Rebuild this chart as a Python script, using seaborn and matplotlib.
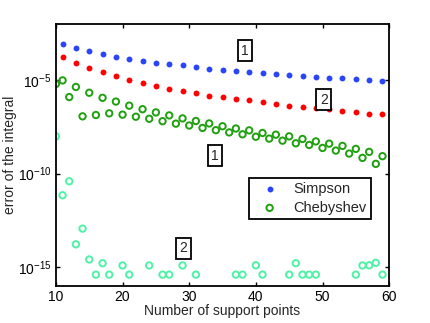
import numpy as np
import pandas as pd
import matplotlib
matplotlib.use("Agg")
import matplotlib.pyplot as plt
import seaborn as sns

# support points
n_odd = list(range(11, 60, 2))
n_all = list(range(10, 60))

# log10 of the integration error
simpson_1 = [-3.07, -3.28, -3.46, -3.60, -3.76, -3.87, -3.97, -4.08, -4.15, -4.22,
             -4.31, -4.41, -4.47, -4.52, -4.57, -4.63, -4.68, -4.75, -4.79, -4.84,
             -4.88, -4.91, -4.95, -5.00, -5.04]
simpson_2 = [-3.79, -4.10, -4.38, -4.59, -4.80, -5.00, -5.16, -5.32, -5.46, -5.59,
             -5.71, -5.83, -5.92, -6.01, -6.08, -6.19, -6.28, -6.37, -6.44, -6.51,
             -6.56, -6.65, -6.72, -6.79, -6.84]
cheb_1 = [-5.21, -5.02, -5.91, -5.37, -6.94, -5.68, -6.87, -5.95, -6.78, -6.15,
          -6.85, -6.37, -6.96, -6.56, -7.07, -6.73, -7.20, -6.89, -7.33, -7.05,
          -7.43, -7.19, -7.56, -7.32, -7.68, -7.47, -7.80, -7.59, -7.90, -7.69,
          -8.03, -7.83, -8.13, -7.92, -8.24, -8.01, -8.38, -8.15, -8.47, -8.28,
          -8.63, -8.40, -8.77, -8.52, -8.93, -8.68, -9.16, -8.84, -9.48, -9.07]
nan = np.nan
cheb_2 = [-8.01, -11.16, -10.41, -13.78, -12.94, -14.59, -15.40, -14.79, -15.40, nan,
          -14.91, -15.40, nan, nan, -14.91, nan, -15.40, -15.40, nan, -14.91,
          nan, -15.40, nan, nan, nan, nan, nan, -15.40, -15.40, nan,
          -14.90, -15.40, nan, nan, nan, -15.40, -14.79, -15.40, -15.40, -15.40,
          nan, nan, nan, nan, nan, -15.40, -14.91, -14.90, -14.77, -15.40]

df_s = pd.DataFrame({"n": n_odd, "s1": 10.0 ** np.array(simpson_1),
                     "s2": 10.0 ** np.array(simpson_2)})
df_c = pd.DataFrame({"n": n_all, "c1": 10.0 ** np.array(cheb_1),
                     "c2": 10.0 ** np.array(cheb_2)})

sns.set_style("ticks")
plt.rcParams["font.family"] = ["Liberation Sans", "DejaVu Sans"]
plt.rcParams["mathtext.fontset"] = "custom"
plt.rcParams["mathtext.rm"] = "Liberation Sans"
plt.rcParams["mathtext.it"] = "Liberation Sans:italic"

blue = "#2a44f8"
red = "#ff0000"
green = "#1fa00f"
mint = "#4ff2a6"

fig = plt.figure(figsize=(4.3, 3.23), dpi=100)
ax = fig.add_axes([0.130, 0.115, 0.775, 0.811])

sns.scatterplot(data=df_s, x="n", y="s1", color=blue, s=18, linewidth=0,
                label="Simpson", ax=ax)
sns.scatterplot(data=df_c, x="n", y="c1", color=green, facecolor="none",
                edgecolor=green, s=21, linewidth=1.4, label="Chebyshev", ax=ax)
sns.scatterplot(data=df_s, x="n", y="s2", color=red, s=18, linewidth=0, ax=ax)
sns.scatterplot(data=df_c, x="n", y="c2", color=mint, facecolor="none",
                edgecolor=mint, s=21, linewidth=1.4, ax=ax)

ax.set_yscale("log")
ax.set_xlim(10, 60)
ax.set_ylim(1e-16, 1e-2)
ax.set_xticks([10, 20, 30, 40, 50, 60])
ax.set_yticks([1e-15, 1e-10, 1e-5])
ax.yaxis.set_minor_locator(matplotlib.ticker.NullLocator())
ax.tick_params(direction="in", top=True, right=True, length=3, width=1,
               labelsize=10, colors="black", pad=3)
for sp in ax.spines.values():
    sp.set_visible(True)
    sp.set_linewidth(1.3)
    sp.set_color("black")

ax.set_xlabel("Number of support points", fontsize=10, labelpad=0)
ax.set_ylabel("error of the integral", fontsize=10, labelpad=1)

box = dict(boxstyle="square,pad=0.25", facecolor="white", edgecolor="black", linewidth=1.3)
for tx, ty, s in [(38.4, 10 ** -3.44, "1"), (50.2, 10 ** -6.05, "2"),
                  (33.9, 10 ** -9.04, "1"), (29.1, 10 ** -14.0, "2")]:
    ax.text(tx, ty, s, ha="center", va="center", fontsize=10, bbox=box)

leg = ax.legend(loc="upper left", bbox_to_anchor=(0.58, 0.412), fontsize=10.5,
                frameon=True, fancybox=False, edgecolor="black", framealpha=1,
                borderpad=0.3, handletextpad=0.5, labelspacing=0.3,
                handlelength=2.2, borderaxespad=0)
leg.get_frame().set_linewidth(1.3)

fig.savefig("out.png", dpi=100)
